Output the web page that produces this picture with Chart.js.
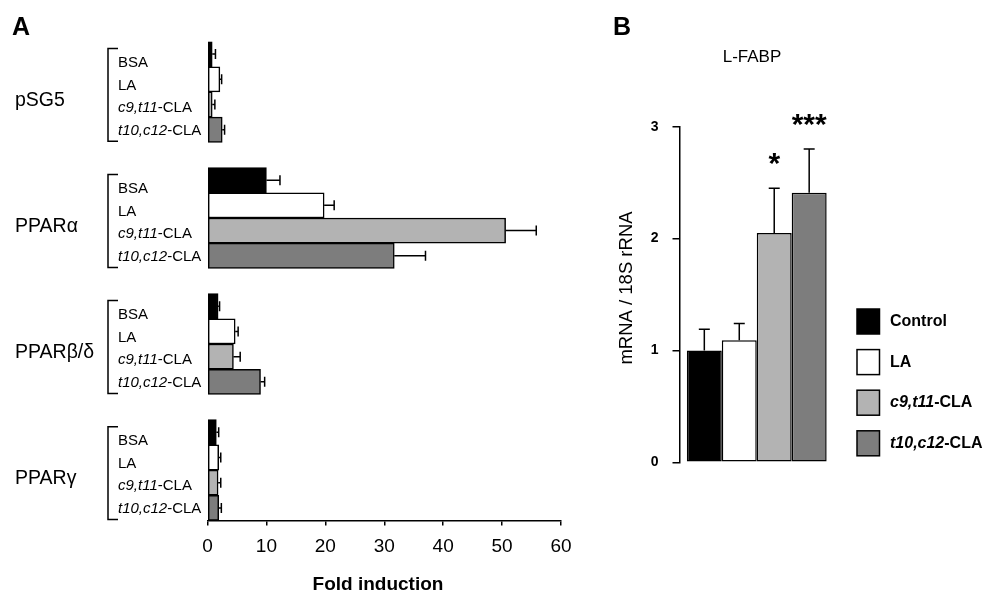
<!DOCTYPE html>
<html>
<head>
<meta charset="utf-8">
<title>Fold induction / L-FABP</title>
<script src="https://cdn.jsdelivr.net/npm/chart.js@4.4.1/dist/chart.umd.min.js"></script>
<style>
  body { margin: 0; background: #fff; }
  #wrap { position: relative; width: 987px; height: 596px; }
  canvas { position: absolute; top: 0; }
  #chartA { left: 0; }
  #chartB { left: 590px; }
</style>
</head>
<body>
<div id="wrap">
  <canvas id="chartA" width="590" height="596"></canvas>
  <canvas id="chartB" width="397" height="596"></canvas>
</div>
<script>
const FONT = '"Liberation Sans", Arial, Helvetica, sans-serif';
Chart.defaults.font.family = FONT;
Chart.defaults.color = '#000';

// Panel A - reporter activity, one value per receptor
const receptors = ['pSG5', 'PPARα', 'PPARβ/δ', 'PPARγ'];
const treatmentsA = ['BSA', 'LA', 'c9,t11-CLA', 't10,c12-CLA'];
const foldBSA = [0.8, 10.0, 1.8, 1.5];
const foldLA = [2.1, 19.8, 4.7, 1.9];
const foldC9 = [0.8, 50.6, 4.4, 1.8];
const foldT10 = [2.5, 31.7, 9.0, 1.9];
const errBSA = [0.55, 2.3, 0.25, 0.4];
const errLA = [0.3, 1.7, 0.5, 0.35];
const errC9 = [0.45, 5.2, 1.15, 0.45];
const errT10 = [0.4, 5.3, 0.7, 0.45];
const foldTicks = [0, 10, 20, 30, 40, 50, 60];

// Panel B - L-FABP mRNA
const treatmentsB = ['Control', 'LA', 'c9,t11-CLA', 't10,c12-CLA'];
const lfabp = [1.0, 1.09, 2.05, 2.41];
const lfabpErr = [0.19, 0.15, 0.40, 0.39];
const lfabpSig = ['', '', '*', '***'];
const mrnaTicks = [0, 1, 2, 3];

const fills = ['#000000', '#ffffff', '#b3b3b3', '#7d7d7d'];

// one row per bar, with an empty row between receptors
const seriesA = [foldBSA, foldLA, foldC9, foldT10];
const errorsA = [errBSA, errLA, errC9, errT10];
const rowLabels = [], rowValues = [], rowErrors = [], rowColors = [];
receptors.forEach((r, g) => {
    treatmentsA.forEach((t, i) => {
        rowLabels.push(r + ' ' + t);
        rowValues.push(seriesA[i][g]);
        rowErrors.push(errorsA[i][g]);
        rowColors.push(fills[i]);
    });
    if (g < receptors.length - 1) {
        rowLabels.push('gap ' + g);
        rowValues.push(null);
        rowErrors.push(null);
        rowColors.push('transparent');
    }
});

// "c9,t11-CLA" -> isomer part in italics, rest upright
function drawIsomer(ctx, label, x, y, size, weight) {
    const cut = label.indexOf('-');
    const parts = cut > 0 ? [[label.slice(0, cut), 'italic '], [label.slice(cut), '']] : [[label, '']];
    parts.forEach(([txt, style]) => {
        ctx.font = `${style}${weight} ${size}px ${FONT}`;
        ctx.fillText(txt, x, y);
        x += ctx.measureText(txt).width;
    });
}

const panelA = {
    id: 'panelA',
    afterDatasetsDraw(chart) {
        const ctx = chart.ctx;
        const xs = chart.scales.x, ys = chart.scales.y;
        const meta = chart.getDatasetMeta(0);
        ctx.save();
        ctx.strokeStyle = '#000';
        ctx.fillStyle = '#000';
        ctx.lineWidth = 1.5;

        // error bars
        meta.data.forEach((bar, k) => {
            if (rowValues[k] == null) return;
            const x2 = xs.getPixelForValue(rowValues[k] + rowErrors[k]);
            ctx.beginPath();
            ctx.moveTo(bar.x, bar.y);
            ctx.lineTo(x2, bar.y);
            ctx.moveTo(x2, bar.y - 5);
            ctx.lineTo(x2, bar.y + 5);
            ctx.stroke();
        });

        // brackets, receptor names and treatment names
        const rowH = ys.getPixelForValue(1) - ys.getPixelForValue(0);
        receptors.forEach((r, g) => {
            const top = ys.getPixelForValue(g * 5) - rowH / 2;
            const bottom = ys.getPixelForValue(g * 5 + 3) + rowH / 2;
            ctx.beginPath();
            ctx.moveTo(118, top + 7);
            ctx.lineTo(108, top + 7);
            ctx.lineTo(108, bottom - 1);
            ctx.lineTo(118, bottom - 1);
            ctx.stroke();

            ctx.textBaseline = 'middle';
            ctx.textAlign = 'left';
            ctx.font = `19.5px ${FONT}`;
            ctx.fillText(r, 15, top + 59);

            treatmentsA.forEach((t, i) => {
                drawIsomer(ctx, t, 118, top + 21.5 + i * 22.5, 15, 'normal');
            });
        });

        // panel letter and axis title
        ctx.textBaseline = 'alphabetic';
        ctx.font = `bold 25px ${FONT}`;
        ctx.fillText('A', 12, 34.5);
        ctx.textAlign = 'center';
        ctx.textBaseline = 'middle';
        ctx.font = `bold 19px ${FONT}`;
        ctx.fillText('Fold induction', 378, 585);
        ctx.restore();
    }
};

const panelB = {
    id: 'panelB',
    afterDatasetsDraw(chart) {
        const ctx = chart.ctx;
        const ys = chart.scales.y;
        ctx.save();
        ctx.strokeStyle = '#000';
        ctx.fillStyle = '#000';
        ctx.lineWidth = 1.5;

        // error bars + significance stars
        chart.data.datasets.forEach((ds, i) => {
            const bar = chart.getDatasetMeta(i).data[0];
            const yTop = ys.getPixelForValue(lfabp[i] + lfabpErr[i]);
            ctx.beginPath();
            ctx.moveTo(bar.x, bar.y);
            ctx.lineTo(bar.x, yTop);
            ctx.moveTo(bar.x - 5.5, yTop);
            ctx.lineTo(bar.x + 5.5, yTop);
            ctx.stroke();
            if (lfabpSig[i]) {
                ctx.textAlign = 'center';
                ctx.textBaseline = 'alphabetic';
                ctx.font = `bold 30px ${FONT}`;
                ctx.fillText(lfabpSig[i], bar.x, yTop - 15);
            }
        });

        // legend
        treatmentsB.forEach((t, i) => {
            const y = 309 + i * 40.6;
            ctx.fillStyle = fills[i];
            ctx.fillRect(267, y, 22.5, 25);
            ctx.strokeRect(267, y, 22.5, 25);
            ctx.fillStyle = '#000';
            ctx.textAlign = 'left';
            ctx.textBaseline = 'middle';
            drawIsomer(ctx, t, 300, y + 12.5, 16, 'bold');
        });

        // letter, title, y axis title
        ctx.textAlign = 'left';
        ctx.textBaseline = 'alphabetic';
        ctx.font = `bold 25px ${FONT}`;
        ctx.fillText('B', 23, 35);
        ctx.textAlign = 'center';
        ctx.textBaseline = 'middle';
        ctx.font = `17px ${FONT}`;
        ctx.fillText('L-FABP', 162, 57.5);
        ctx.translate(37, 288);
        ctx.rotate(-Math.PI / 2);
        ctx.font = `18.5px ${FONT}`;
        ctx.fillText('mRNA / 18S rRNA', 0, 0);
        ctx.restore();
    }
};

new Chart(document.getElementById('chartA'), {
    type: 'bar',
    data: {
        labels: rowLabels,
        datasets: [{
            data: rowValues,
            backgroundColor: rowColors,
            borderColor: '#000',
            borderWidth: 1.5,
            borderSkipped: false,
            barPercentage: 1,
            categoryPercentage: 1
        }]
    },
    options: {
        indexAxis: 'y',
        responsive: false,
        animation: false,
        devicePixelRatio: 1,
        layout: { padding: { left: 207.5, right: 29, top: 41.5, bottom: 0 } },
        plugins: { legend: { display: false }, tooltip: { enabled: false } },
        scales: {
            y: { display: false },
            x: {
                min: 0,
                max: 60,
                afterBuildTicks: s => { s.ticks = foldTicks.map(v => ({ value: v })); },
                ticks: { color: '#000', font: { size: 19 }, padding: 10 },
                grid: { drawOnChartArea: false, color: '#000', lineWidth: 1.5, tickLength: 5 },
                border: { color: '#000', width: 1.5 },
                afterFit: s => { s.height = 75.5; }
            }
        }
    },
    plugins: [panelA]
});

new Chart(document.getElementById('chartB'), {
    type: 'bar',
    data: {
        labels: ['L-FABP'],
        datasets: treatmentsB.map((t, i) => ({
            label: t,
            data: [lfabp[i]],
            backgroundColor: fills[i],
            borderColor: '#000',
            borderWidth: 1.5,
            borderSkipped: false,
            barPercentage: 1,
            categoryPercentage: 0.905
        }))
    },
    options: {
        responsive: false,
        animation: false,
        devicePixelRatio: 1,
        layout: { padding: { left: 49.5, right: 153, top: 126.7, bottom: 133.7 } },
        plugins: { legend: { display: false }, tooltip: { enabled: false } },
        scales: {
            x: { display: false },
            y: {
                min: 0,
                max: 3,
                afterBuildTicks: s => { s.ticks = mrnaTicks.map(v => ({ value: v })); },
                ticks: { color: '#000', font: { size: 14, weight: 'bold' }, padding: 14 },
                grid: { drawOnChartArea: false, color: '#000', lineWidth: 1.5, tickLength: 7 },
                border: { color: '#000', width: 1.5 },
                afterFit: s => { s.width = 40; }
            }
        }
    },
    plugins: [panelB]
});
</script>
</body>
</html>
